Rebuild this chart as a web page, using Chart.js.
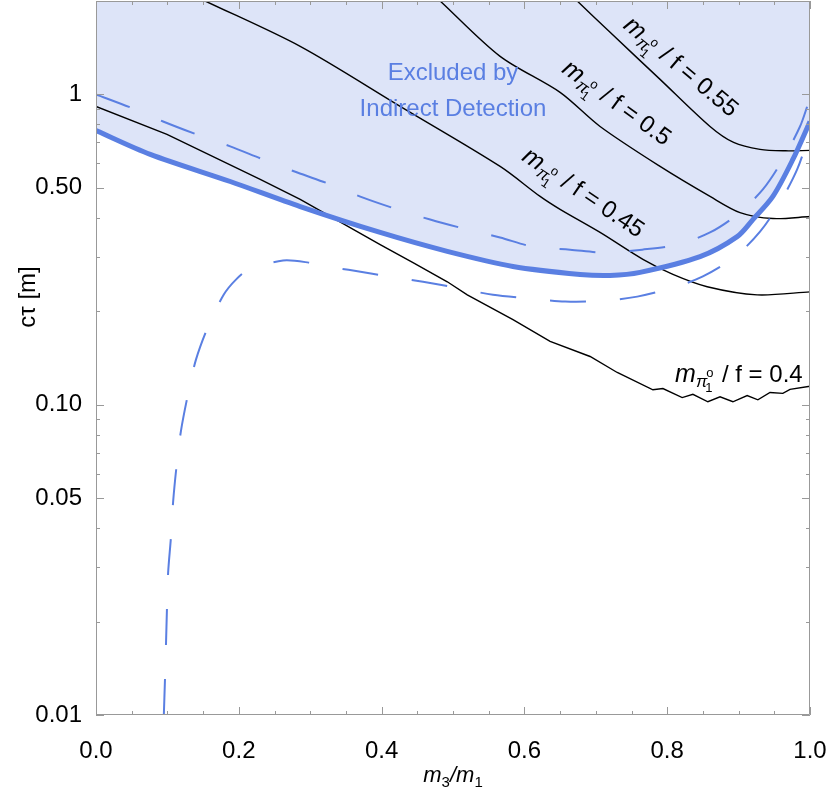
<!DOCTYPE html>
<html>
<head>
<meta charset="utf-8">
<script src="https://cdn.jsdelivr.net/npm/chart.js@4"></script>
<style>
  html, body { margin: 0; padding: 0; background: #fff; }
  #wrap { width: 830px; height: 791px; }
</style>
</head>
<body>
<div id="wrap"><canvas id="ctau"></canvas></div>
<script>
// excluded region boundary (thick line)
const excludedX = [0, 0.076, 0.188, 0.286, 0.398, 0.492, 0.584, 0.678, 0.72, 0.762, 0.846, 0.898, 0.92, 0.948, 0.976, 1.0];
const excludedY = [0.765, 0.641, 0.524, 0.435, 0.359, 0.312, 0.279, 0.263, 0.261, 0.267, 0.30, 0.348, 0.395, 0.469, 0.617, 0.818];

// upper dashed curve
const upperDashX = [0, 0.048, 0.094, 0.141, 0.188, 0.234, 0.282, 0.328, 0.374, 0.422, 0.468, 0.52, 0.566, 0.612, 0.664, 0.713, 0.765, 0.814, 0.86, 0.898, 0.934, 0.962, 0.986, 0.997];
const upperDashY = [1.0, 0.908, 0.818, 0.743, 0.680, 0.617, 0.56, 0.513, 0.465, 0.426, 0.395, 0.367, 0.346, 0.323, 0.316, 0.309, 0.316, 0.328, 0.359, 0.41, 0.494, 0.617, 0.788, 0.928];

// lower dashed curve
const lowerDashX = [0.095, 0.0966, 0.098, 0.0994, 0.101, 0.105, 0.108, 0.113, 0.119, 0.129, 0.140, 0.157, 0.179, 0.196, 0.214, 0.262, 0.298, 0.311, 0.36, 0.41, 0.458, 0.506, 0.556, 0.608, 0.657, 0.709, 0.758, 0.807, 0.85, 0.895, 0.93, 0.958, 0.982, 1.0];
const lowerDashY = [0.01, 0.013, 0.0168, 0.0221, 0.0287, 0.0375, 0.0486, 0.064, 0.0824, 0.1085, 0.1397, 0.1786, 0.2264, 0.253, 0.2725, 0.2915, 0.287, 0.281, 0.2706, 0.259, 0.249, 0.238, 0.226, 0.22, 0.215, 0.216, 0.223, 0.238, 0.259, 0.30, 0.361, 0.449, 0.573, 0.754];

// m_pi / f contours
const f40X = [0, 0.0994, 0.23, 0.286, 0.398, 0.444, 0.492, 0.52, 0.584, 0.636, 0.692, 0.73, 0.78, 0.794, 0.821, 0.836, 0.857, 0.874, 0.892, 0.912, 0.927, 0.944, 0.962, 0.972, 1.0];
const f40Y = [0.915, 0.743, 0.532, 0.459, 0.328, 0.287, 0.249, 0.226, 0.188, 0.16, 0.143, 0.127, 0.1117, 0.1127, 0.1054, 0.108, 0.1022, 0.106, 0.1022, 0.107, 0.1037, 0.1095, 0.1088, 0.112, 0.1147];

const f45X = [0.153, 0.286, 0.426, 0.566, 0.622, 0.65, 0.706, 0.766, 0.808, 0.856, 0.926, 1.0];
const f45Y = [2.0, 1.428, 0.915, 0.586, 0.469, 0.426, 0.359, 0.294, 0.263, 0.24, 0.226, 0.231];

const f50X = [0.482, 0.566, 0.65, 0.706, 0.79, 0.86, 0.902, 0.948, 1.0];
const f50Y = [2.0, 1.326, 1.015, 0.788, 0.586, 0.469, 0.416, 0.398, 0.404];

const f55X = [0.674, 0.72, 0.79, 0.86, 0.893, 0.93, 0.966, 1.0];
const f55Y = [2.0, 1.585, 1.118, 0.788, 0.70, 0.665, 0.658, 0.66];

// ticks
const xTickValues = [0, 0.2, 0.4, 0.6, 0.8, 1.0];
const yTickValues = [0.01, 0.05, 0.1, 0.5, 1];
const yTickLabels = ['0.01', '0.05', '0.10', '0.50', '1'];
const yMinorValues = [0.02, 0.03, 0.04, 0.06, 0.07, 0.08, 0.09, 0.2, 0.3, 0.4, 0.6, 0.7, 0.8, 0.9, 2];

// curve labels: [value, x, y, angle]
const contourLabels = [
    ['0.55', 0.737, 1.645, 40],
    ['0.5', 0.651, 1.186, 36],
    ['0.45', 0.595, 0.617, 34],
    ['0.4', 0.811, 0.118, 0]
];

const BLUE = 'rgb(90, 127, 226)';
const FILL = 'rgb(221, 228, 248)';
const FONT = '"Liberation Sans", Arial, sans-serif';

function pts(xs, ys) {
    return xs.map((x, i) => ({x: x, y: ys[i]}));
}

function line(label, xs, ys, extra) {
    return Object.assign({
        label: label,
        data: pts(xs, ys),
        showLine: true,
        pointRadius: 0,
        borderColor: '#000',
        borderWidth: 1.4,
        tension: 0.3,
        fill: false
    }, extra);
}

function drawMLabel(ctx, px, py, angle, value) {
    ctx.save();
    ctx.translate(px, py);
    ctx.rotate(angle * Math.PI / 180);
    ctx.fillStyle = '#000';
    ctx.textAlign = 'left';
    ctx.textBaseline = 'alphabetic';
    ctx.font = 'italic 25px ' + FONT;
    ctx.fillText('m', 0, 0);
    let w = ctx.measureText('m').width;
    ctx.font = 'italic 17px ' + FONT;
    ctx.fillText('π', w, 5);
    const wp = ctx.measureText('π').width;
    ctx.font = '13px ' + FONT;
    ctx.fillText('1', w + wp - 2, 10);
    ctx.fillText('o', w + wp - 1, -5);
    ctx.font = '24px ' + FONT;
    ctx.fillText(' / f = ' + value, w + wp + 8, 0);
    ctx.restore();
}

const decorations = {
    id: 'decorations',
    afterDatasetsDraw(chart) {
        const {ctx, scales: {x, y}} = chart;
        ctx.save();
        // region text
        ctx.fillStyle = BLUE;
        ctx.font = '24px ' + FONT;
        ctx.textAlign = 'center';
        ctx.textBaseline = 'alphabetic';
        ctx.fillText('Excluded by', x.getPixelForValue(0.5), y.getPixelForValue(1.11));
        ctx.fillText('Indirect Detection', x.getPixelForValue(0.5), y.getPixelForValue(0.85));
        ctx.restore();

        contourLabels.forEach(l => {
            drawMLabel(ctx, x.getPixelForValue(l[1]), y.getPixelForValue(l[2]), l[3], l[0]);
        });
    },
    afterDraw(chart) {
        const {ctx, chartArea: a, scales: {x, y}} = chart;
        ctx.save();
        ctx.strokeStyle = '#999';
        ctx.lineWidth = 1;
        ctx.beginPath();
        ctx.rect(a.left + 0.5, a.top + 0.5, a.right - a.left - 1, a.bottom - a.top - 1);
        // x ticks (inward, bottom and top)
        for (let i = 0; i <= 20; i++) {
            const v = i * 0.05;
            const px = Math.round(x.getPixelForValue(v)) + 0.5;
            const len = (i % 4 === 0) ? 8 : 4;
            ctx.moveTo(px, a.bottom); ctx.lineTo(px, a.bottom - len);
            ctx.moveTo(px, a.top); ctx.lineTo(px, a.top + len);
        }
        // y ticks (inward, left and right)
        yTickValues.concat(yMinorValues).forEach(v => {
            const py = Math.round(y.getPixelForValue(v)) + 0.5;
            const len = yTickValues.includes(v) ? 8 : 4;
            ctx.moveTo(a.left, py); ctx.lineTo(a.left + len, py);
            ctx.moveTo(a.right, py); ctx.lineTo(a.right - len, py);
        });
        ctx.stroke();

        // axis titles
        ctx.fillStyle = '#000';
        ctx.textBaseline = 'alphabetic';
        ctx.textAlign = 'left';
        const parts = [
            ['italic 22px ', 'm', 0], ['15px ', '3', 5],
            ['italic 22px ', '/', 0], ['italic 22px ', 'm', 0], ['15px ', '1', 5]
        ];
        let total = 0;
        parts.forEach(p => { ctx.font = p[0] + FONT; total += ctx.measureText(p[1]).width; });
        let cx = (a.left + a.right) / 2 - total / 2;
        parts.forEach(p => {
            ctx.font = p[0] + FONT;
            ctx.fillText(p[1], cx, 782 + p[2]);
            cx += ctx.measureText(p[1]).width;
        });

        ctx.translate(28, 297);
        ctx.rotate(-Math.PI / 2);
        ctx.font = '24px ' + FONT;
        ctx.textAlign = 'center';
        ctx.textBaseline = 'middle';
        ctx.fillText('cτ [m]', 0, 0);
        ctx.restore();
    }
};

new Chart(document.getElementById('ctau'), {
    type: 'scatter',
    data: {
        datasets: [
            line('excluded', excludedX, excludedY, {borderColor: BLUE, borderWidth: 5, fill: 'end', backgroundColor: FILL}),
            line('upper dashed', upperDashX, upperDashY, {borderColor: BLUE, borderWidth: 2, borderDash: [36, 34]}),
            line('lower dashed', lowerDashX, lowerDashY, {borderColor: BLUE, borderWidth: 2, borderDash: [36, 34]}),
            line('f = 0.4', f40X, f40Y, {tension: 0}),
            line('f = 0.45', f45X, f45Y),
            line('f = 0.5', f50X, f50Y),
            line('f = 0.55', f55X, f55Y)
        ]
    },
    options: {
        responsive: true,
        maintainAspectRatio: false,
        animation: false,
        layout: {padding: {top: 1, right: 20, left: 0, bottom: 0}},
        plugins: {
            legend: {display: false},
            tooltip: {enabled: false},
            filler: {drawTime: 'beforeDatasetsDraw'}
        },
        scales: {
            x: {
                type: 'linear',
                min: 0,
                max: 1,
                grid: {display: false},
                border: {display: false},
                afterBuildTicks: s => { s.ticks = xTickValues.map(v => ({value: v})); },
                afterFit: s => { s.height = 76; s.paddingLeft = 0; s.paddingRight = 0; },
                ticks: {
                    padding: 14,
                    color: '#000',
                    font: {family: FONT, size: 24},
                    maxRotation: 0,
                    callback: v => v.toFixed(1)
                }
            },
            y: {
                type: 'logarithmic',
                min: 0.01,
                max: 2.0,
                grid: {display: false},
                border: {display: false},
                afterBuildTicks: s => { s.ticks = yTickValues.map(v => ({value: v})); },
                afterFit: s => { s.width = 96; s.paddingTop = 0; s.paddingBottom = 0; },
                ticks: {
                    padding: 6,
                    color: '#000',
                    font: {family: FONT, size: 24},
                    callback: v => yTickLabels[yTickValues.indexOf(v)]
                }
            }
        }
    },
    plugins: [decorations]
});
</script>
</body>
</html>
